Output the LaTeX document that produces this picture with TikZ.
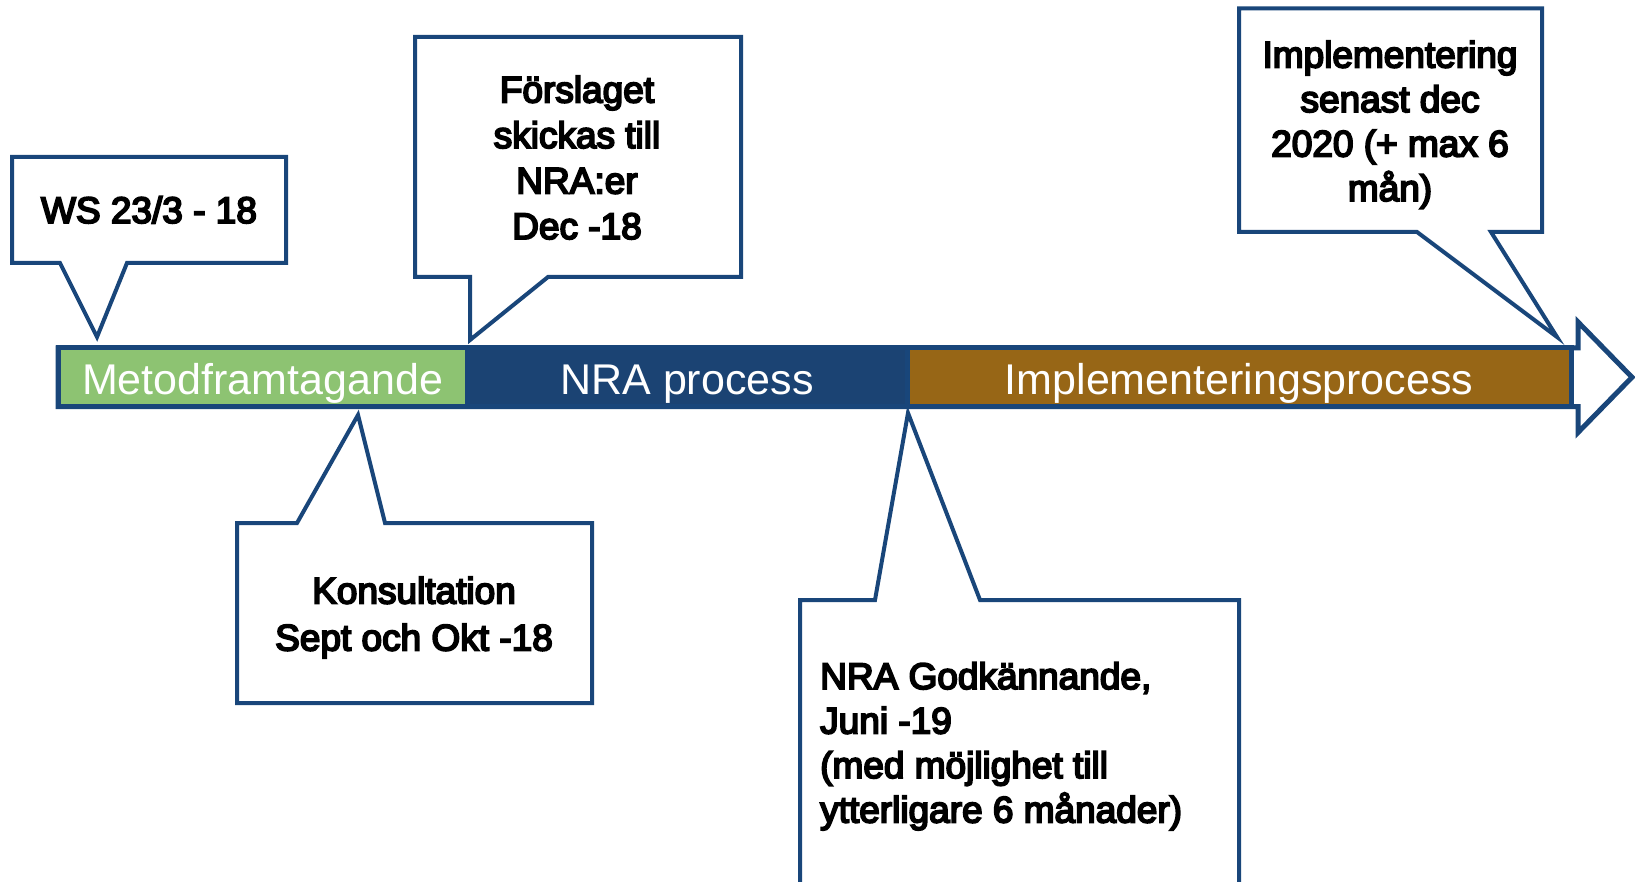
\documentclass[tikz,border=0pt]{standalone}
\usepackage{fontspec}
\setmainfont{Liberation Sans}
\newfontfamily\bubbelfont[FakeBold=5]{Liberation Sans}
\usetikzlibrary{positioning,backgrounds}
\definecolor{linjebla}{RGB}{25,70,122}
\definecolor{metodgron}{RGB}{141,195,114}
\definecolor{nramork}{RGB}{27,67,115}
\definecolor{implbrun}{RGB}{151,102,22}
\tikzset{
        x=1pt, y=-1pt, % slide pixels, y runs downwards
        fas/.style={draw=linjebla, line width=5pt, inner sep=0pt, outer sep=0pt,
            minimum height=58.5pt, text=white, font=\fontsize{43}{50}\selectfont,
            text height=34pt, text depth=0pt}, % one phase of the time line
        pil/.style={draw=linjebla, line width=5pt, fill=white}, % block arrow behind the phases
        bubbla/.style={draw=linjebla, line width=4pt, fill=white}, % callout outline
        bubbeltext/.style={inner sep=0pt, align=center, anchor=north,
            font=\bubbelfont\fontsize{37}{45.5}\selectfont}, % callout text
    }

\begin{document}
\begin{tikzpicture}
    \useasboundingbox (0,0) rectangle (1635,882);

    % the three phases
    \node[fas, fill=metodgron, minimum width=409pt] (metod) at (262.5,377.25) {Metodframtagande};
    \node[fas, fill=nramork, minimum width=440pt, right=0pt of metod] (nraproc) {NRA process};
    \node[fas, fill=implbrun, minimum width=664pt, right=0pt of nraproc] (implproc) {Implementeringsprocess};

    \begin{scope}[on background layer]
    \draw[pil] (metod.north west) -- ([xshift=7pt]implproc.north east) -- ++(0,-26) -- ++(54,55.25)
        -- ++(-54,55.25) -- ++(0,-26) -- (metod.south west) -- cycle;
    \end{scope}

    % callouts above
    \draw[bubbla] (12,157) -- (286,157) -- (286,263) -- (127,263) -- (97,337) -- (60,263) -- (12,263) -- cycle;
    \node[bubbeltext, anchor=base] (ws) at (149,223) {WS 23/3 - 18};

    \draw[bubbla] (415,37) -- (741,37) -- (741,277) -- (548,277) -- (470,340) -- (470,277) -- (415,277) -- cycle;
    \node[bubbeltext] (forslag) at (577,75.5) {Förslaget\\skickas till\\NRA:er\\Dec -18};

    \draw[bubbla] (1239,8.5) -- (1542,8.5) -- (1542,232) -- (1491,232) -- (1557,337) -- (1417,232) -- (1239,232) -- cycle;
    \node[bubbeltext, font=\bubbelfont\fontsize{37}{44.5}\selectfont] (senast) at (1390,40.5)
        {Implementering\\senast dec\\2020 (+ max 6\\mån)};

    % callouts below
    \draw[bubbla] (237,523) -- (297,523) -- (358,415) -- (385,523) -- (592,523) -- (592,703) -- (237,703) -- cycle;
    \node[bubbeltext, font=\bubbelfont\fontsize{37}{47}\selectfont] (konsult) at (414,576.5)
        {Konsultation\\Sept och Okt -18};

    \draw[bubbla] (800,600) -- (875,600) -- (908,413) -- (980,600) -- (1239,600) -- (1239,886) -- (800,886) -- cycle;
    \node[bubbeltext, anchor=north west, align=left, font=\bubbelfont\fontsize{37}{44.5}\selectfont] (godk) at (820,662)
        {NRA Godkännande,\\Juni -19\\(med möjlighet till\\ytterligare 6 månader)};
\end{tikzpicture}
\end{document}
